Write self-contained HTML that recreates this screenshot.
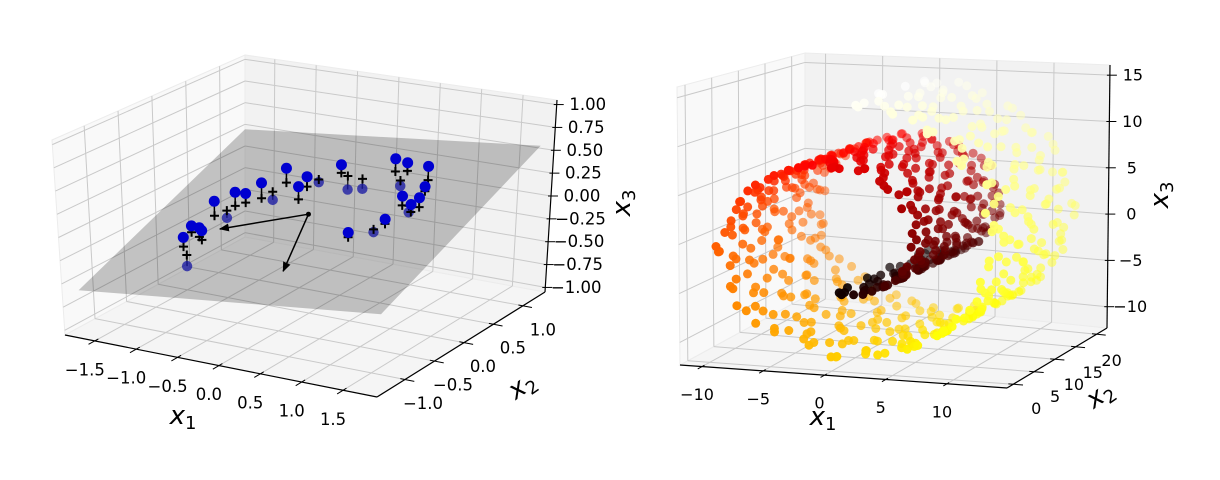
<!DOCTYPE html>
<html><head><meta charset="utf-8"><style>
html,body{margin:0;padding:0;background:#fff;}
svg{display:block;font-family:"DejaVu Sans","Liberation Sans",sans-serif;}
</style></head><body>
<svg id="chart" width="1220" height="480" viewBox="0 0 1220 480">
<rect width="1220" height="480" fill="#fff"/>
<g id="left"></g>
<g id="right"></g>
</svg>
<script>
// ---------- Left chart data ----------
const ptX1 = [-1.11,-0.99,-0.91,-0.78,-0.68,-0.40,-0.35,-0.17,0.43,0.56,0.90,0.99,0.89,1.10,0.90,0.63,0.83,-1.18,-0.98,-1.11,-0.98,-1.03,-0.73,-0.35,0.14,-0.06,0.97,0.59,-1.04,1.06];
const ptX2 = [-0.05,0.12,0.18,0.26,0.52,0.48,0.28,0.72,0.79,0.81,0.69,0.52,0.29,0.28,0.0,-0.23,-0.09,-0.32,-0.42,-0.54,-0.66,0.04,0.37,0.60,0.65,0.68,0.29,0.66,-0.38,0.2];
const ptH  = [0.16,0.15,0.10,0.17,0.16,0.11,0.14,0.09,0.14,0.09,0.15,0.05,0.10,0.10,0.05,0.05,-0.03,0.07,0.10,0.10,-0.12,-0.08,-0.09,-0.03,-0.11,-0.15,-0.07,-0.06,0.10,0.08];
const planeCoef = [-0.03, 0.092, 0.327]; // c, a (x1), b (x2)
const planeX1 = [-1.8, 1.8];
const planeX2 = [-1.3, 1.3];
const arrowOrigin = [-0.07, 0.07];
const arrowEnds1 = [-0.90, 0.27];
const arrowEnds2 = [-0.24, -0.79];
const leftX1Ticks = [-1.5,-1.0,-0.5,0.0,0.5,1.0,1.5];
const leftX2Ticks = [-1.0,-0.5,0.0,0.5,1.0];
const leftZTicks = [-1.0,-0.75,-0.5,-0.25,0.0,0.25,0.5,0.75,1.0];
const leftX1Labels = ["−1.5","−1.0","−0.5","0.0","0.5","1.0","1.5"];
const leftX2Labels = ["−1.0","−0.5","0.0","0.5","1.0"];
const leftZLabels = ["−1.00","−0.75","−0.50","−0.25","0.00","0.25","0.50","0.75","1.00"];

// ---------- Right chart data ----------
const rollT = [4.72,4.75,4.81,4.83,4.90,4.93,4.95,5.01,5.06,5.08,5.12,5.17,5.19,5.24,5.27,5.33,5.35,5.40,5.44,5.46,5.52,5.55,5.58,5.63,5.66,5.71,5.74,5.79,5.81,5.86,5.90,5.95,5.97,6.02,6.06,6.09,6.13,6.18,6.20,6.25,6.29,6.33,6.36,6.41,6.44,6.47,6.53,6.56,6.60,6.63,6.68,6.71,6.75,6.79,6.84,6.86,6.91,6.94,6.98,7.03,7.06,7.10,7.13,7.18,7.22,7.25,7.29,7.34,7.37,7.40,7.46,7.49,7.52,7.57,7.60,7.64,7.68,7.72,7.75,7.80,7.83,7.87,7.91,7.95,7.98,8.03,8.06,8.10,8.14,8.17,8.22,8.25,8.29,8.33,8.36,8.41,8.44,8.48,8.51,8.56,8.59,8.63,8.67,8.70,8.75,8.78,8.82,8.86,8.89,8.94,8.97,9.01,9.04,9.09,9.12,9.16,9.20,9.23,9.28,9.31,9.35,9.39,9.42,9.47,9.50,9.54,9.57,9.62,9.65,9.69,9.73,9.76,9.81,9.84,9.88,9.92,9.95,10.00,10.03,10.07,10.11,10.14,10.19,10.22,10.26,10.30,10.33,10.38,10.41,10.45,10.48,10.53,10.56,10.60,10.64,10.67,10.72,10.75,10.79,10.83,10.86,10.91,10.94,10.98,11.01,11.06,11.09,11.13,11.17,11.20,11.25,11.28,11.32,11.36,11.39,11.44,11.47,11.51,11.54,11.59,11.62,11.66,11.70,11.73,11.78,11.81,11.85,11.89,11.92,11.97,12.00,12.04,12.07,12.12,12.15,12.19,12.23,12.26,12.31,12.34,12.38,12.42,12.45,12.50,12.53,12.57,12.60,12.65,12.68,12.72,12.76,12.79,12.84,12.87,12.91,12.95,12.98,13.03,13.06,13.10,13.13,13.18,13.21,13.25,13.29,13.32,13.37,13.40,13.44,13.48,13.51,13.56,13.59,13.63,13.66,13.71,13.74,13.78,13.82,13.85,13.90,13.93,13.97,14.01,14.04,14.09,14.12];
const rollDepthA = [3.2,17.8,9.1,0.6,14.3,20.2,6.7,11.9,2.4,16.1,8.3,19.5,4.8,12.7,1.3,15.4,10.2,18.9,5.5,13.6,0.9,7.8,20.7,11.1,3.9,16.8,9.7,1.8,14.9,6.1,19.2,12.3,4.2,17.3,8.8,2.9,15.8,10.6,20.4,5.9,13.1,0.3,18.2,7.2,11.6,3.5,16.4,9.4,19.9,1.6,14.0,6.4,12.9,4.5,17.6,8.0,2.1,15.1,10.9,20.9,5.2];
const rollDepthB = [12.1,1.1,18.5,7.5,15.7,4.0,10.4,20.0,2.7,13.9,8.6,17.0,0.4,11.4,19.4,6.3,14.6,3.0,9.9,16.6,5.0,12.5,20.6,1.9,8.1,18.0,13.3,4.6,10.8,15.2,0.7,19.7,7.0,11.8,2.2,17.2,9.0,14.4,5.7,20.3,3.6,12.6,16.3,1.4,8.5,18.7,6.8,13.7,10.0,4.3,15.5,19.1,2.5,11.2,7.7,17.9,0.1,14.8,9.6,5.3,16.9,3.3,12.0,20.5,6.0,10.3,18.3];
const rollDepthC = [7.4,19.8,1.5,13.0,5.6,16.2,10.1,0.8,18.6,8.9,14.7,3.7,20.1,11.5,6.6,17.4,2.6,12.8,9.3,19.0,4.9,15.9,0.2,13.4,7.9,18.1,3.1,10.7,16.7,5.4,20.8,9.8,1.2,14.2,6.9,17.7,11.0,2.8,19.3,8.4,15.0,4.1,12.2,20.0,6.2,16.0,0.5,10.5,18.4,3.4,13.8,7.1,19.6,11.3,2.0,15.6,8.7,17.1,4.4];
const rightX1Ticks = [-10,-5,0,5,10];
const rightX2Ticks = [0,5,10,15,20];
const rightZTicks = [-10,-5,0,5,10,15];

const NS = "http://www.w3.org/2000/svg";
function mk(tag, parent){ const e=document.createElementNS(NS,tag); parent.appendChild(e); return e; }
function attrs(e,o){ for(const k in o) e.setAttribute(k,o[k]); return e; }

const LP = {xr:[-1.86,1.91], yr:[-1.475,1.375], zr:[-1.05,1.05],
  b:{LF:[65,335],FR:[377,397],RB:[545,292],BL:[245,237]},
  t:{LF:[52,140],FR:[385,190],RB:[557,100],BL:[245,55]}};
const RP = {xr:[-11.8,14.9], yr:[-1.5,22.5], zr:[-12.3,16.1],
  b:{LF:[680,365],FR:[1007,388],RB:[1107,328],BL:[805,297]},
  t:{LF:[677,87],FR:[1012,88],RB:[1110,65],BL:[805,53]}};

function bil(c,u,v,i){ return (1-u)*(1-v)*c.LF[i]+u*(1-v)*c.FR[i]+u*v*c.RB[i]+(1-u)*v*c.BL[i]; }
function proj(P,x,y,z){
  const u=(x-P.xr[0])/(P.xr[1]-P.xr[0]), v=(y-P.yr[0])/(P.yr[1]-P.yr[0]), w=(z-P.zr[0])/(P.zr[1]-P.zr[0]);
  return [(1-w)*bil(P.b,u,v,0)+w*bil(P.t,u,v,0), (1-w)*bil(P.b,u,v,1)+w*bil(P.t,u,v,1)];
}
function pts(arr){ return arr.map(p=>p[0].toFixed(1)+","+p[1].toFixed(1)).join(" "); }
function line(g,a,b,stroke,w){ const l=mk("line",g); attrs(l,{x1:a[0],y1:a[1],x2:b[0],y2:b[1],stroke:stroke,"stroke-width":w}); return l; }

function drawBox(g,P,xt,yt,zt,xl,yl,zl,fs,off){
  const [x0,x1]=P.xr,[y0,y1]=P.yr,[z0,z1]=P.zr;
  const floor=mk("polygon",g);
  attrs(floor,{points:pts([proj(P,x0,y0,z0),proj(P,x1,y0,z0),proj(P,x1,y1,z0),proj(P,x0,y1,z0)]),fill:"#f5f5f5",stroke:"#ececec"});
  
  
  const lw=mk("polygon",g);
  attrs(lw,{points:pts([proj(P,x0,y0,z0),proj(P,x0,y1,z0),proj(P,x0,y1,z1),proj(P,x0,y0,z1)]),fill:"#f9f9f9",stroke:"#ececec"});
  
  
  const bw=mk("polygon",g);
  attrs(bw,{points:pts([proj(P,x0,y1,z0),proj(P,x1,y1,z0),proj(P,x1,y1,z1),proj(P,x0,y1,z1)]),fill:"#f2f2f2",stroke:"#ececec"});
  
  
  const grid=mk("g",g);
  
  
  const gc="#c9c9c9";
  xt.forEach(t=>{ line(grid,proj(P,t,y0,z0),proj(P,t,y1,z0),gc,1); line(grid,proj(P,t,y1,z0),proj(P,t,y1,z1),gc,1); });
  yt.forEach(t=>{ line(grid,proj(P,x0,t,z0),proj(P,x1,t,z0),gc,1); line(grid,proj(P,x0,t,z0),proj(P,x0,t,z1),gc,1); });
  zt.forEach(t=>{ line(grid,proj(P,x0,y0,t),proj(P,x0,y1,t),gc,1); line(grid,proj(P,x0,y1,t),proj(P,x1,y1,t),gc,1); });
  const ax=mk("g",g);
  
  
  const a1=line(ax,proj(P,x0,y0,z0),proj(P,x1,y0,z0),"#000",1.2);
  
  
  const a2=line(ax,proj(P,x1,y0,z0),proj(P,x1,y1,z0),"#000",1.2);
  
  
  const a3=line(ax,proj(P,x1,y1,z0),proj(P,x1,y1,z1),"#000",1.2);
  
  
  const dy=(y1-y0), dx=(x1-x0);
  xt.forEach((t,i)=>{
    const p=proj(P,t,y0,z0), q=proj(P,t,y0-0.035*dy,z0), r=proj(P,t,y0+0.02*dy,z0);
    line(ax,r,q,"#000",1);
    const tx=mk("text",ax); attrs(tx,{x:p[0]+off.x1[0],y:p[1]+off.x1[1],"font-size":fs,"text-anchor":"middle","dominant-baseline":"central"});
    tx.textContent=xl[i];
    
    
  });
  yt.forEach((t,i)=>{
    const p=proj(P,x1,t,z0), q=proj(P,x1+0.03*dx,t,z0), r=proj(P,x1-0.015*dx,t,z0);
    line(ax,r,q,"#000",1);
    const f=yt.length>1? i/(yt.length-1):0;
    const ox=off.x2a[0]+(off.x2b[0]-off.x2a[0])*f, oy=off.x2a[1]+(off.x2b[1]-off.x2a[1])*f;
    const tx=mk("text",ax); attrs(tx,{x:p[0]+ox,y:p[1]+oy,"font-size":fs,"text-anchor":"middle","dominant-baseline":"central"});
    tx.textContent=yl[i];
    
    
  });
  zt.forEach((t,i)=>{
    const p=proj(P,x1,y1,t);
    line(ax,[p[0]-3,p[1]],[p[0]+7,p[1]],"#000",1);
    const tx=mk("text",ax); attrs(tx,{x:p[0]+off.z,y:p[1],"font-size":fs,"text-anchor":"middle","dominant-baseline":"central"});
    tx.textContent=zl[i];
    
    
  });
}
function axisLabel(g,x,y,sub,rot,name){
  const t=mk("text",g);
  attrs(t,{x:x,y:y,"font-size":26,"font-style":"italic","text-anchor":"middle","dominant-baseline":"central",transform:`rotate(${rot} ${x} ${y})`});
  t.textContent="x";
  const s=mk("tspan",t); attrs(s,{"font-size":18,dy:7,"font-style":"normal"}); s.textContent=sub;
  
  
}

// ===== LEFT =====
const gL=document.getElementById("left");
drawBox(gL,LP,leftX1Ticks,leftX2Ticks,leftZTicks,leftX1Labels,leftX2Labels,leftZLabels,16.5,
  {x1:[-10,29],x2a:[18,24],x2b:[20,24],z:31});
axisLabel(gL,183,416,"1",0,"x1-axis-title");
axisLabel(gL,522,386,"2",-35,"x2-axis-title");
axisLabel(gL,622,203,"3",-90,"x3-axis-title");

function planeZ(a,b){ return planeCoef[0]+planeCoef[1]*a+planeCoef[2]*b; }
const below=mk("g",gL);


const above=mk("g",gL);
ptX1.forEach((a,i)=>{
  const b=ptX2[i], z0=planeZ(a,b), h=ptH[i];
  if(h>=0) return;
  const p=proj(LP,a,b,z0+h), q=proj(LP,a,b,z0);
  line(below,p,q,"#333",1.5);
  const c=mk("circle",below); attrs(c,{cx:p[0],cy:p[1],r:5.2,fill:"#1a1ad0","fill-opacity":0.75});
  
  
});
const plane=mk("polygon",gL);
attrs(plane,{points:pts([proj(LP,planeX1[0],planeX2[0],planeZ(planeX1[0],planeX2[0])),proj(LP,planeX1[1],planeX2[0],planeZ(planeX1[1],planeX2[0])),proj(LP,planeX1[1],planeX2[1],planeZ(planeX1[1],planeX2[1])),proj(LP,planeX1[0],planeX2[1],planeZ(planeX1[0],planeX2[1]))]),fill:"#000","fill-opacity":0.22});


gL.appendChild(above);


ptX1.forEach((a,i)=>{
  const b=ptX2[i], z0=planeZ(a,b), h=ptH[i];
  const q=proj(LP,a,b,z0);
  if(h>=0){ line(above,proj(LP,a,b,z0+h),q,"#000",1.5); }
  const m=mk("path",above); attrs(m,{d:`M${q[0]-4.5},${q[1]}H${q[0]+4.5}M${q[0]},${q[1]-4.5}V${q[1]+4.5}`,stroke:"#000","stroke-width":2});
  
  
});
ptX1.forEach((a,i)=>{
  const b=ptX2[i], z0=planeZ(a,b), h=ptH[i];
  if(h<0) return;
  const p=proj(LP,a,b,z0+h);
  const c=mk("circle",above); attrs(c,{cx:p[0],cy:p[1],r:5.5,fill:"#0000d0"});
  
  
});
const defs=mk("defs",document.getElementById("chart"));
const mkr=mk("marker",defs); attrs(mkr,{id:"ah",markerWidth:10,markerHeight:8,refX:9,refY:4,orient:"auto",markerUnits:"userSpaceOnUse"});
const mp=mk("path",mkr); attrs(mp,{d:"M0,0L10,4L0,8Z",fill:"#000"});
const o=proj(LP,arrowOrigin[0],arrowOrigin[1],planeZ(arrowOrigin[0],arrowOrigin[1]));
[0,1].forEach(k=>{
  const ex=arrowEnds1[k], ey=arrowEnds2[k];
  const e=proj(LP,ex,ey,planeZ(ex,ey));
  const l=line(gL,o,e,"#000",1.5); l.setAttribute("marker-end","url(#ah)");
  
  
});
const od=mk("circle",gL); attrs(od,{cx:o[0],cy:o[1],r:2.5,fill:"#000"});



// ===== RIGHT =====
const gR=document.getElementById("right");
drawBox(gR,RP,rightX1Ticks,rightX2Ticks,rightZTicks,rightX1Ticks.map(v=>String(v).replace("-","−")),rightX2Ticks.map(String),rightZTicks.map(v=>String(v).replace("-","−")),16,
  {x1:[-5,28],x2a:[23,24],x2b:[15,26],z:23});
axisLabel(gR,823,417,"1",0,"x1-axis-title");
axisLabel(gR,1100,395,"2",-35,"x2-axis-title");
axisLabel(gR,1160,195,"3",-90,"x3-axis-title");

function hot(x){
  const r=Math.min(1,0.0416+x/0.365*(1-0.0416));
  const g=Math.max(0,Math.min(1,(x-0.365)/0.381));
  const b=Math.max(0,Math.min(1,(x-0.746)/0.254));
  return `rgb(${Math.round(r*255)},${Math.round(g*255)},${Math.round(b*255)})`;
}
const roll=[];
const tMin=Math.min(...rollT), tMax=Math.max(...rollT);
rollT.forEach((t,i)=>{
  roll.push({t:t,d:rollDepthA[i%rollDepthA.length]});
  roll.push({t:t,d:rollDepthB[i%rollDepthB.length]});
  roll.push({t:t,d:rollDepthC[i%rollDepthC.length]});
});
roll.sort((a,b)=>b.d-a.d);
const sg=mk("g",gR);


roll.forEach(p=>{
  const s=proj(RP,p.t*Math.cos(p.t),p.d,p.t*Math.sin(p.t));
  const c=mk("circle",sg);
  attrs(c,{cx:s[0].toFixed(1),cy:s[1].toFixed(1),r:4.5,fill:hot((p.t-tMin)/(tMax-tMin)),"fill-opacity":(1-0.5*p.d/21).toFixed(2)});
  
  
});
</script>
</body></html>
